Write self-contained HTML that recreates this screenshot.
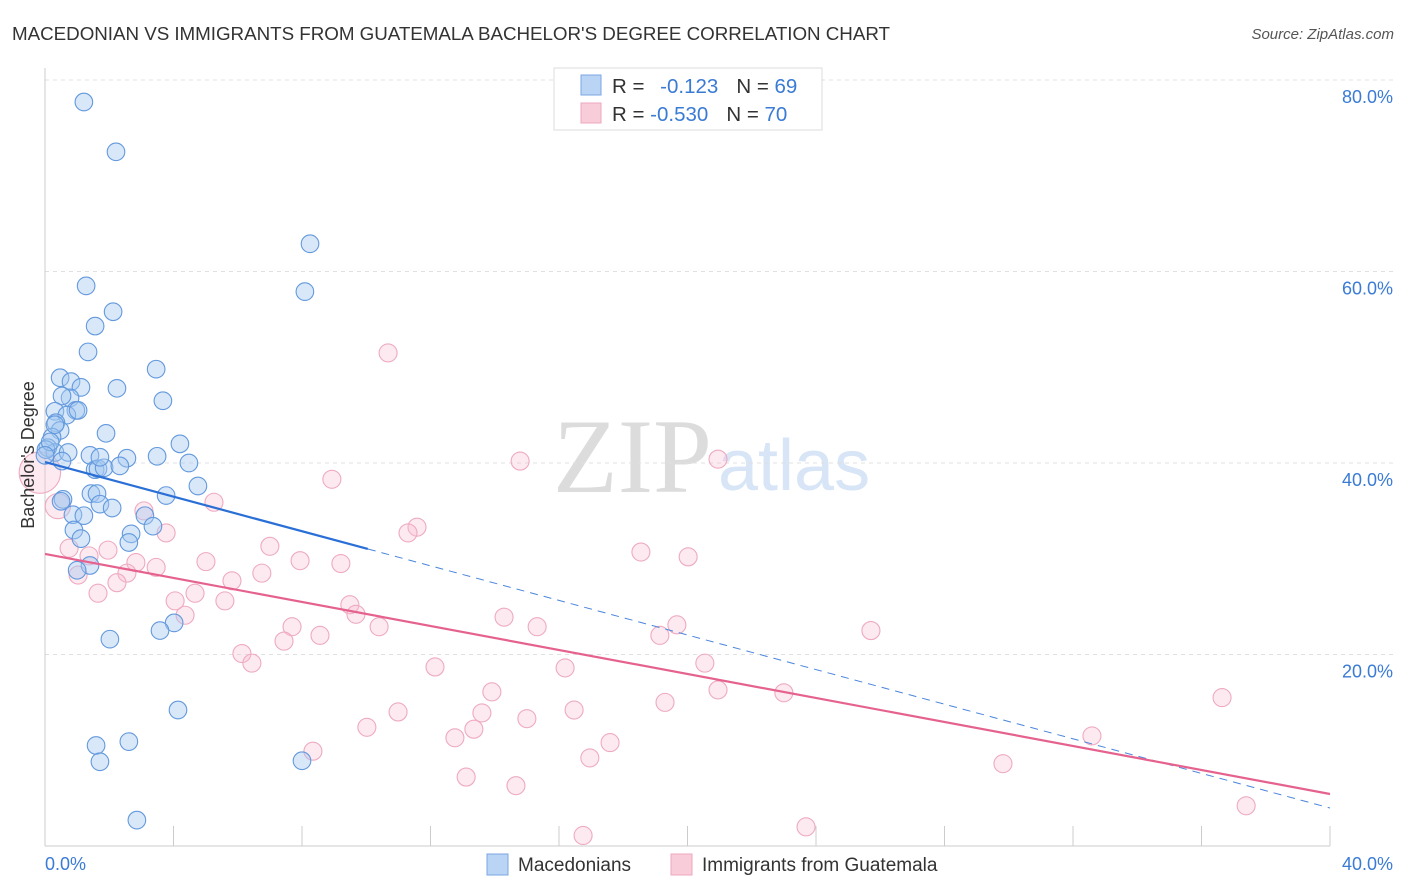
<!DOCTYPE html>
<html><head><meta charset="utf-8">
<style>
body{margin:0;background:#fff;font-family:"Liberation Sans",sans-serif;}
#wrap{position:relative;width:1406px;height:892px;overflow:hidden;}
</style></head>
<body><div id="wrap">
<svg id="chart" width="1406" height="892" style="position:absolute;left:0;top:0;font-family:'Liberation Sans',sans-serif">
<text x="12" y="40" font-size="18.8" fill="#333" textLength="878">MACEDONIAN VS IMMIGRANTS FROM GUATEMALA BACHELOR'S DEGREE CORRELATION CHART</text>
<text x="1394" y="39" font-size="15" fill="#555" font-style="italic" text-anchor="end">Source: ZipAtlas.com</text>
<text x="712" y="492" font-size="106" fill="#dcdcdc" text-anchor="end" font-family="Liberation Serif,serif">ZIP</text>
<text x="718" y="490" font-size="72" fill="#d7e5f7">atlas</text>
<g id="grid"></g><g id="axes"></g><g id="pts"></g><g id="lines"></g>
<text transform="translate(34,455) rotate(-90)" font-size="18" fill="#333" text-anchor="middle">Bachelor's Degree</text>
<g>
<rect x="554" y="68" width="268" height="62" fill="#fff" stroke="#ddd"/>
<rect x="581" y="75" width="20" height="20" fill="#b9d4f5" stroke="#7aa6e2"/>
<rect x="581" y="103" width="20" height="20" fill="#f9ccda" stroke="#eda7be"/>
<text x="612" y="93" font-size="20.5" fill="#333">R = <tspan fill="#3a7bd5" dx="10">-0.123</tspan><tspan dx="18">N = </tspan><tspan fill="#3a7bd5">69</tspan></text>
<text x="612" y="121" font-size="20.5" fill="#333">R = <tspan fill="#3a7bd5">-0.530</tspan><tspan dx="18">N = </tspan><tspan fill="#3a7bd5">70</tspan></text>
</g>
<g>
<rect x="487" y="854" width="21" height="21" fill="#b9d4f5" stroke="#7aa6e2"/>
<text x="518" y="871" font-size="19" fill="#333">Macedonians</text>
<rect x="671" y="854" width="21" height="21" fill="#f9ccda" stroke="#eda7be"/>
<text x="702" y="871" font-size="19" fill="#333">Immigrants from Guatemala</text>
</g>
</svg>
<script>
const blueX=[1.21,2.21,8.25,8.09,1.28,2.12,1.56,1.34,3.46,0.47,0.81,1.12,2.24,0.78,0.53,3.67,0.31,0.96,0.68,1.03,0.34,0.47,0.22,1.90,4.20,0.09,0.31,0.72,1.40,2.55,3.49,4.48,0.53,1.56,1.65,1.84,4.76,1.43,1.62,3.77,0.56,0.50,1.71,2.09,0.87,1.21,3.11,3.36,2.68,2.61,0.90,1.12,1.40,1.00,4.02,3.58,2.02,4.14,1.59,2.61,1.71,8.00,2.86,0.03,0.16,0.31,0.0,2.33,1.71];
const blueY=[77.7,72.5,62.9,57.9,58.5,55.8,54.3,51.6,49.8,48.9,48.5,47.9,47.8,46.8,47.0,46.5,45.4,45.5,45.0,45.5,44.2,43.4,42.7,43.1,42.0,41.6,41.1,41.1,40.8,40.5,40.7,40.0,40.2,39.3,39.4,39.5,37.6,36.8,36.8,36.6,36.2,36.0,35.7,35.3,34.6,34.5,34.5,33.4,32.6,31.7,33.0,32.1,29.3,28.8,23.3,22.5,21.6,14.2,10.5,10.9,8.8,8.9,2.7,41.4,42.2,44.0,40.8,39.7,40.6];
const pinkX=[10.68,14.79,20.95,8.93,11.58,11.30,5.26,3.08,3.77,0.75,1.37,1.96,7.00,7.94,9.21,18.55,20.02,5.01,2.83,3.46,2.55,6.75,1.03,2.24,5.82,1.65,4.67,5.60,4.05,9.49,9.68,4.36,14.29,15.32,7.69,8.56,10.40,7.44,19.14,19.67,25.71,6.13,6.44,20.54,12.14,16.19,13.91,20.95,23.00,19.30,36.64,16.47,13.60,15.00,10.99,13.35,10.02,12.76,17.59,32.59,8.34,13.11,16.96,29.82,14.66,23.69,16.75,37.39,-0.16,0.40];
const pinkY=[51.5,40.2,40.4,38.3,33.3,32.7,35.9,35.0,32.7,31.1,30.3,30.9,31.3,29.8,29.5,30.7,30.2,29.7,29.6,29.1,28.5,28.5,28.3,27.5,27.7,26.4,26.4,25.6,25.6,25.2,24.2,24.1,23.9,22.9,22.9,22.0,22.9,21.4,22.0,23.1,22.5,20.1,19.1,19.1,18.7,18.6,16.1,16.3,16.0,15.0,15.5,14.2,13.9,13.3,14.0,12.2,12.4,11.3,10.8,11.5,9.9,7.2,9.2,8.6,6.3,2.0,1.1,4.2,39.0,35.5];
const pinkWeight=[1,1,1,1,1,1,1,1,1,1,1,1,1,1,1,1,1,1,1,1,1,1,1,1,1,1,1,1,1,1,1,1,1,1,1,1,1,1,1,1,1,1,1,1,1,1,1,1,1,1,1,1,1,1,1,1,1,1,1,1,1,1,1,1,1,1,1,1,2.3,1.4];
const yTicks=[20,40,60,80];
const yTickLabels=["20.0%","40.0%","60.0%","80.0%"];
const xTicks=[4,8,12,16,20,24,28,32,36,40];
const blueTrend=[40.1,3.97], blueSolidEnd=10.05;
const pinkTrend=[30.5,5.43];
const NS="http://www.w3.org/2000/svg";
const sx=v=>45+v/40*1285, sy=v=>846-v/20*191.5;
function mk(t,a,p){const e=document.createElementNS(NS,t);for(const k in a)e.setAttribute(k,a[k]);p.appendChild(e);return e;}
const grid=document.getElementById('grid'),axes=document.getElementById('axes'),pts=document.getElementById('pts'),lines=document.getElementById('lines');
yTicks.forEach((t,i)=>{
 const l=mk('line',{x1:45,x2:1394,y1:sy(t),y2:sy(t),stroke:'#e0e0e0','stroke-dasharray':'4,4'},grid);
 
 
 const tx=mk('text',{x:1393,y:sy(t)+23,'font-size':18,fill:'#3a7bd5','text-anchor':'end'},grid);
 tx.textContent=yTickLabels[i];
 
 
});
const ya=mk('line',{x1:45,x2:45,y1:68,y2:846,stroke:'#ccc'},axes);


const xa=mk('line',{x1:45,x2:1330,y1:846,y2:846,stroke:'#ccc'},axes);


xTicks.forEach(t=>{
 const k=mk('line',{x1:sx(t),x2:sx(t),y1:826,y2:846,stroke:'#ccc'},axes);
 
 
});
const x0=mk('text',{x:45,y:870,'font-size':18,fill:'#3a7bd5'},axes);x0.textContent='0.0%';


const x1=mk('text',{x:1393,y:870,'font-size':18,fill:'#3a7bd5','text-anchor':'end'},axes);x1.textContent='40.0%';


pinkX.forEach((x,i)=>{
 const c=mk('circle',{cx:sx(x),cy:sy(pinkY[i]),r:9*pinkWeight[i],fill:'rgba(248,188,208,0.32)',stroke:'#eeaac0','stroke-width':1.1},pts);
 
 
});
blueX.forEach((x,i)=>{
 const c=mk('circle',{cx:sx(x),cy:sy(blueY[i]),r:8.8,fill:'rgba(165,199,240,0.42)',stroke:'#6399dd','stroke-width':1.1},pts);
 
 
});
const bAt=x=>blueTrend[0]+(blueTrend[1]-blueTrend[0])*x/40;
const b1=mk('line',{x1:sx(0),y1:sy(bAt(0)),x2:sx(blueSolidEnd),y2:sy(bAt(blueSolidEnd)),stroke:'#2a6fd6','stroke-width':2.2},lines);


const b2=mk('line',{x1:sx(blueSolidEnd),y1:sy(bAt(blueSolidEnd)),x2:sx(40),y2:sy(bAt(40)),stroke:'#4a85dc','stroke-width':1,'stroke-dasharray':'8,6'},lines);


const p1=mk('line',{x1:sx(0),y1:sy(pinkTrend[0]),x2:sx(40),y2:sy(pinkTrend[1]),stroke:'#e5628f','stroke-width':2.2},lines);


</script>
</div></body></html>
